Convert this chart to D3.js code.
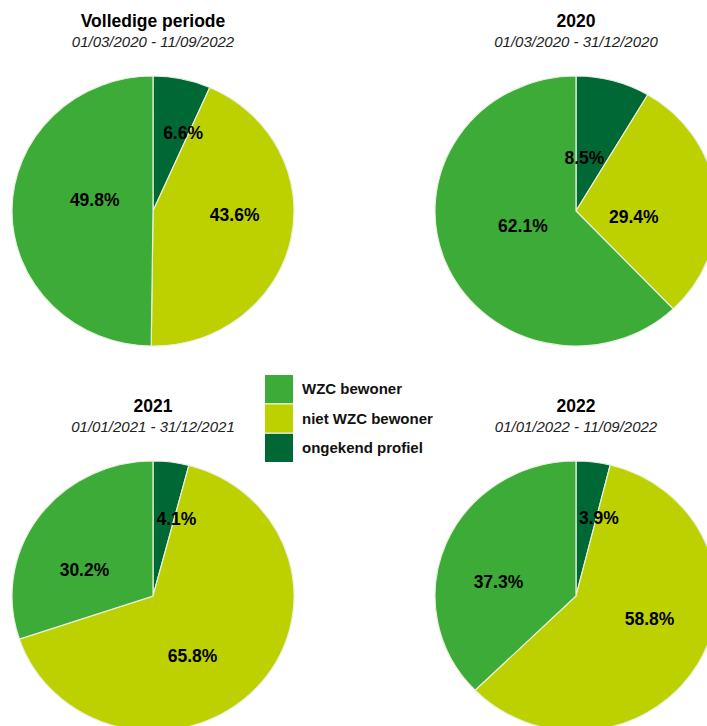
<!DOCTYPE html>
<html>
<head>
<meta charset="utf-8">
<script src="https://cdn.jsdelivr.net/npm/d3@7/dist/d3.min.js"></script>
<style>
  html, body { margin: 0; padding: 0; background: #fff; }
  svg { display: block; font-family: "Liberation Sans", Arial, sans-serif; }
</style>
</head>
<body>
<svg id="chart" width="707" height="726"></svg>
<script>
// ---- data ----
const panelTitles = ["Volledige periode", "2020", "2021", "2022"];
const panelPeriods = ["01/03/2020 - 11/09/2022", "01/03/2020 - 31/12/2020", "01/01/2021 - 31/12/2021", "01/01/2022 - 11/09/2022"];
const categories = ["WZC bewoner", "niet WZC bewoner", "ongekend profiel"];
const wzcBewoner = [49.8, 62.1, 30.2, 37.3];
const nietWzcBewoner = [43.6, 29.4, 65.8, 58.8];
const ongekendProfiel = [6.6, 8.5, 4.1, 3.9];

// ---- styles / layout ----
const colors = { "WZC bewoner": "#3dab37", "niet WZC bewoner": "#bdd000", "ongekend profiel": "#006834" };
// small label nudges (px) relative to the slice centroid, order: ongekend, niet WZC, WZC
const labelNudge = [
  [[15, -9], [10, -11], [15, -11]],
  [[-11, 15], [-15, 14], [15, -11]],
  [[14, -8], [-14, 12], [-9, 15]],
  [[14, -8], [10, -12], [-10, 13]]
];

const svg = d3.select("#chart");
const col = d3.scalePoint().domain([0, 1]).range([153, 576]);
const row = d3.scalePoint().domain([0, 1]).range([211, 596]);
const rx = 141, ry = 135, ratio = ry / rx;

const pie = d3.pie().sort(null).value(d => d.value);
const arc = d3.arc().innerRadius(0).outerRadius(rx);
const labelArc = d3.arc().innerRadius(rx * 0.52).outerRadius(rx * 0.52);

panelTitles.forEach((title, i) => {
  const cx = col(i % 2), cy = row(Math.floor(i / 2));
  const data = [
    { cat: "ongekend profiel", value: ongekendProfiel[i] },
    { cat: "niet WZC bewoner", value: nietWzcBewoner[i] },
    { cat: "WZC bewoner", value: wzcBewoner[i] }
  ];
  const arcs = pie(data);

  const g = svg.append("g").attr("transform", `translate(${cx},${cy}) scale(1,${ratio})`);
  g.selectAll("path").data(arcs).join("path")
    .attr("d", arc)
    .attr("fill", d => colors[d.data.cat])
    .attr("stroke", "#e8f0e0")
    .attr("stroke-width", 1.2)
    .attr("vector-effect", "non-scaling-stroke");

  const lg = svg.append("g").attr("transform", `translate(${cx},${cy})`);
  lg.selectAll("text").data(arcs).join("text")
    .attr("x", (d, j) => labelArc.centroid(d)[0] + labelNudge[i][j][0])
    .attr("y", (d, j) => labelArc.centroid(d)[1] * ratio + labelNudge[i][j][1])
    .attr("dy", "0.35em")
    .attr("text-anchor", "middle")
    .attr("font-weight", "bold")
    .attr("font-size", 17.5)
    .attr("fill", "#000")
    .text(d => d.data.value.toFixed(1) + "%");

  svg.append("text")
    .attr("x", cx).attr("y", cy - 184)
    .attr("text-anchor", "middle")
    .attr("font-weight", "bold").attr("font-size", 17.5)
    .attr("fill", "#000")
    .text(title);
  svg.append("text")
    .attr("x", cx).attr("y", cy - 164)
    .attr("text-anchor", "middle")
    .attr("font-style", "italic").attr("font-size", 15)
    .attr("fill", "#222")
    .text(panelPeriods[i]);
});

// ---- legend ----
const legend = svg.append("g").attr("transform", "translate(265,375)");
const ly = d3.scaleBand().domain(categories).range([0, 87]).paddingInner(0.04);
categories.forEach(c => {
  legend.append("rect")
    .attr("x", 0).attr("y", ly(c))
    .attr("width", 28).attr("height", ly.bandwidth())
    .attr("fill", colors[c]);
  legend.append("text")
    .attr("x", 37).attr("y", ly(c) + ly.bandwidth() / 2)
    .attr("dy", "0.35em")
    .attr("font-weight", "bold").attr("font-size", 15)
    .attr("fill", "#111")
    .text(c);
});
</script>
</body>
</html>
